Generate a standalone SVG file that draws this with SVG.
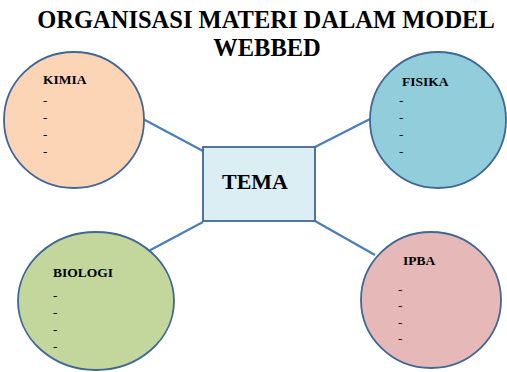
<svg xmlns="http://www.w3.org/2000/svg" width="507" height="372" viewBox="0 0 507 372">
<style>
text{font-family:"Liberation Serif","Times New Roman",serif;font-weight:bold;fill:#000}
.title{font-size:24.5px;text-anchor:middle}
.lbl{font-size:13.5px}
.d{font-size:13px;font-weight:normal}
.node{stroke:#3F6797;stroke-width:1.8}
.edge{stroke:#4A7EBB;stroke-width:2.2;fill:none}
</style>
<rect width="507" height="372" fill="#fff"/>
<g id="title">
<text class="title" x="266" y="28">ORGANISASI MATERI DALAM MODEL</text>
<text class="title" x="267" y="56">WEBBED</text>
</g>
<g id="connectors">
<line class="edge" x1="143" y1="119" x2="203" y2="151"/>
<line class="edge" x1="370" y1="119" x2="315" y2="147"/>
<line class="edge" x1="143" y1="254" x2="203" y2="222"/>
<line class="edge" x1="375" y1="255" x2="315" y2="221"/>
</g>
<g id="kimia">
<ellipse class="node" cx="74" cy="120" rx="70" ry="68" fill="#FBD5B5"/>
<text class="lbl" x="43" y="84">KIMIA</text>
<text class="d" x="43" y="105">-</text>
<text class="d" x="43" y="122">-</text>
<text class="d" x="43" y="139">-</text>
<text class="d" x="43" y="156">-</text>
</g>
<g id="fisika">
<ellipse class="node" cx="438" cy="120" rx="68" ry="68" fill="#92CDDC"/>
<text class="lbl" x="402" y="86">FISIKA</text>
<text class="d" x="399" y="105">-</text>
<text class="d" x="399" y="122">-</text>
<text class="d" x="399" y="139">-</text>
<text class="d" x="399" y="156">-</text>
</g>
<g id="tema">
<rect class="node" x="203" y="147" width="112" height="74" fill="#DBEEF4"/>
<text x="255" y="189" font-size="22" text-anchor="middle">TEMA</text>
</g>
<g id="biologi">
<ellipse class="node" cx="96" cy="301" rx="78" ry="69" fill="#C3D69B"/>
<text class="lbl" x="53" y="277">BIOLOGI</text>
<text class="d" x="53" y="300">-</text>
<text class="d" x="53" y="317">-</text>
<text class="d" x="53" y="334">-</text>
<text class="d" x="53" y="351">-</text>
</g>
<g id="ipba">
<ellipse class="node" cx="431" cy="300" rx="70" ry="68" fill="#E6B9B8"/>
<text class="lbl" x="403" y="265">IPBA</text>
<text class="d" x="398" y="294">-</text>
<text class="d" x="398" y="310">-</text>
<text class="d" x="398" y="327">-</text>
<text class="d" x="398" y="343">-</text>
</g>
</svg>
